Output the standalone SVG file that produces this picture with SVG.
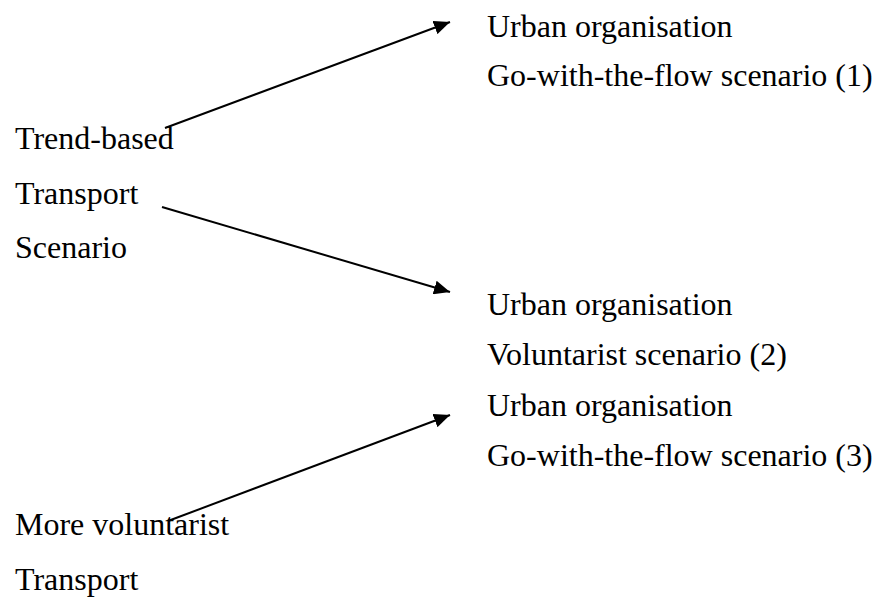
<svg xmlns="http://www.w3.org/2000/svg" width="878" height="597" viewBox="0 0 878 597">
<style>
text{font-family:"Liberation Serif","Times New Roman",serif;font-size:32px;fill:#000}
.c{stroke:#000;stroke-width:2;fill:none;marker-end:url(#ah)}
</style>
<defs>
<marker id="ah" markerUnits="userSpaceOnUse" markerWidth="18" markerHeight="14" refX="16" refY="7" orient="auto">
<path d="M0,0 L16,7 L0,14 Z" fill="#000"/>
</marker>
</defs>
<rect width="878" height="597" fill="#fff"/>
<g id="n1"><text x="487" y="37">Urban organisation</text><text x="487" y="86">Go-with-the-flow scenario (1)</text></g>
<g id="n2"><text x="15" y="149">Trend-based</text><text x="15" y="204">Transport</text><text x="15" y="258">Scenario</text></g>
<g id="n3"><text x="487" y="315">Urban organisation</text><text x="487" y="365">Voluntarist scenario (2)</text></g>
<g id="n4"><text x="487" y="416">Urban organisation</text><text x="487" y="466">Go-with-the-flow scenario (3)</text></g>
<g id="n5"><text x="15" y="535">More voluntarist</text><text x="15" y="590">Transport</text></g>
<g id="connectors">
<line class="c" x1="165" y1="128" x2="450" y2="22"/>
<line class="c" x1="162" y1="207" x2="450" y2="292"/>
<line class="c" x1="168" y1="521" x2="450" y2="415"/>
</g>
</svg>
